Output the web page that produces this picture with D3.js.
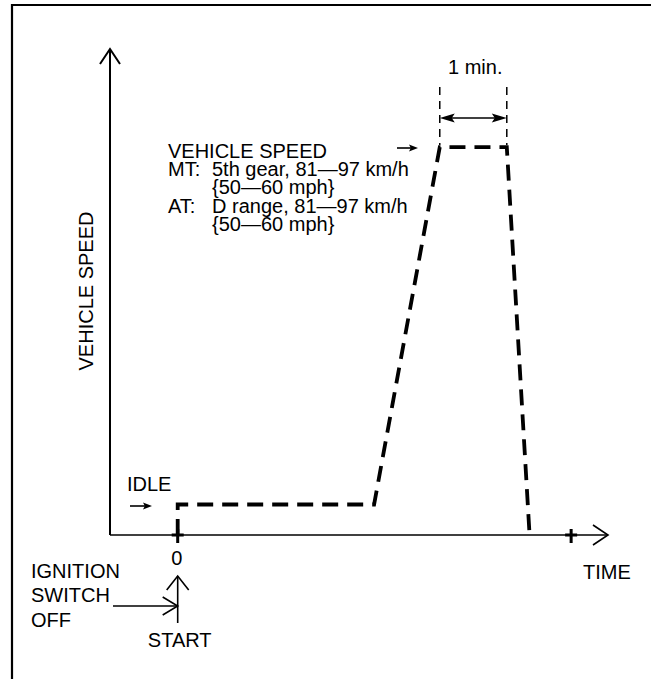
<!DOCTYPE html>
<html>
<head>
<meta charset="utf-8">
<script src="https://cdn.jsdelivr.net/npm/d3@7"></script>
<style>
  html, body { margin: 0; padding: 0; background: #fff; }
  svg { display: block; }
  text { font-family: "Liberation Sans", Arial, Helvetica, sans-serif; font-size: 20px; fill: #000; }
</style>
</head>
<body>
<svg id="chart" width="651" height="679"></svg>
<script>
// Drive-cycle profile: time in minutes after start, speed in km/h
const profileTime  = [0, 0, 2.93, 3.91, 4.91, 5.25];
const profileSpeed = [0, 7, 7, 89, 89, 0];

// Axis extent and the single marked tick beyond the cycle
const timeDomain  = [-1.01, 6.42];
const speedDomain = [0, 111.5];
const endTick = 5.87;
const zeroLabel = "0";

const speedNote = [
  { t: "VEHICLE SPEED", x: 0 },
  { t: "MT:", x: 0 }, { t: "5th gear, 81\u201497 km/h", x: 44 },
  { t: "{50\u201460 mph}", x: 44 },
  { t: "AT:", x: 0 }, { t: "D range, 81\u201497 km/h", x: 44 },
  { t: "{50\u201460 mph}", x: 44 }
];
const noteLine = [0, 1, 1, 2, 3, 3, 4];
const ignitionLines = ["IGNITION", "SWITCH", "OFF"];

const svg = d3.select("#chart");

const x = d3.scaleLinear().domain(timeDomain).range([110, 608]);
const y = d3.scaleLinear().domain(speedDomain).range([535, 49]);

// frame
svg.append("path")
  .attr("d", "M12,679 V5 H651")
  .attr("fill", "none").attr("stroke", "#000").attr("stroke-width", 2.2);

const chevron = (tx, ty, dx, dy, len, half) => {
  // open arrowhead pointing along (dx,dy)
  const px = -dy, py = dx;
  const bx = tx - dx * len, by = ty - dy * len;
  return `M${bx + px * half},${by + py * half} L${tx},${ty} L${bx - px * half},${by - py * half}`;
};
const solidHead = (tx, ty, dx, len, half) =>
  `M${tx},${ty} L${tx - dx * len},${ty - half} L${tx - dx * len * 0.8},${ty} L${tx - dx * len},${ty + half} Z`;

// axes
const x0 = x(timeDomain[0]), yTop = y(speedDomain[1]), yBase = y(0);
svg.append("line").attr("x1", x0).attr("x2", x0).attr("y1", yBase).attr("y2", yTop)
  .attr("stroke", "#000").attr("stroke-width", 2);
svg.append("path").attr("d", chevron(x0, yTop, 0, -1, 15, 10))
  .attr("fill", "none").attr("stroke", "#000").attr("stroke-width", 2);
svg.append("line").attr("x1", x0).attr("x2", x(timeDomain[1])).attr("y1", yBase).attr("y2", yBase)
  .attr("stroke", "#000").attr("stroke-width", 1.6);
svg.append("path").attr("d", chevron(x(timeDomain[1]), yBase, 1, 0, 15, 10))
  .attr("fill", "none").attr("stroke", "#000").attr("stroke-width", 1.6);

// tick marks
[0, endTick].forEach(t => {
  svg.append("path")
    .attr("d", `M${x(t)},${yBase - 6} V${yBase + 8} M${x(t) - 6},${yBase} H${x(t) + 6}`)
    .attr("fill", "none").attr("stroke", "#000").attr("stroke-width", 3);
});

// speed profile
const pts = profileTime.map((t, i) => [t, profileSpeed[i]]);
svg.append("path")
  .datum(pts)
  .attr("d", d3.line().x(d => x(d[0])).y(d => y(d[1])))
  .attr("fill", "none").attr("stroke", "#000").attr("stroke-width", 3.8)
  .attr("stroke-dasharray", "16,9");

// 1 minute hold markers
const holdA = x(profileTime[3]), holdB = x(profileTime[4]), holdY = y(profileSpeed[3]);
[holdA, holdB].forEach(px => {
  svg.append("line").attr("x1", px).attr("x2", px).attr("y1", 87).attr("y2", holdY - 2)
    .attr("stroke", "#000").attr("stroke-width", 1.5).attr("stroke-dasharray", "8,6");
});
svg.append("line").attr("x1", holdA + 6).attr("x2", holdB - 6).attr("y1", 118).attr("y2", 118)
  .attr("stroke", "#000").attr("stroke-width", 1.5);
svg.append("path").attr("d", solidHead(holdB, 118, 1, 15, 4.5)).attr("fill", "#000");
svg.append("path").attr("d", solidHead(holdA, 118, -1, 15, 4.5)).attr("fill", "#000");
svg.append("text").attr("x", (holdA + holdB) / 2 + 2).attr("y", 74)
  .attr("text-anchor", "middle").text("1 min.");

// pointer arrows
const pointer = (x1, x2, py) => {
  svg.append("line").attr("x1", x1).attr("x2", x2 - 6).attr("y1", py).attr("y2", py)
    .attr("stroke", "#000").attr("stroke-width", 1.6);
  svg.append("path").attr("d", solidHead(x2, py, 1, 9, 3.5)).attr("fill", "#000");
};
pointer(397, 418, 148);
pointer(130, 152, 506);

// speed note block, one multi-line text
svg.append("text")
  .selectAll("tspan").data(speedNote).join("tspan")
  .attr("x", d => 168 + d.x)
  .attr("y", (d, i) => 157.5 + noteLine[i] * 18.4)
  .text(d => d.t);

svg.append("text").attr("x", 127).attr("y", 491).text("IDLE");

// axis titles
svg.append("text")
  .attr("transform", "translate(93,291) rotate(-90)")
  .attr("text-anchor", "middle").text("VEHICLE SPEED");
svg.append("text").attr("x", 583).attr("y", 579).text("TIME");
svg.append("text").attr("x", x(0) - 1).attr("y", 565).attr("text-anchor", "middle").text(zeroLabel);

// ignition / start callout
svg.append("text")
  .selectAll("tspan").data(ignitionLines).join("tspan")
  .attr("x", 31).attr("y", (d, i) => 578 + i * 24.3).text(d => d);

const sx = x(0);
svg.append("line").attr("x1", sx).attr("x2", sx).attr("y1", 576).attr("y2", 623)
  .attr("stroke", "#000").attr("stroke-width", 1.6);
svg.append("path").attr("d", chevron(sx, 576, 0, -1, 14, 11))
  .attr("fill", "none").attr("stroke", "#000").attr("stroke-width", 1.6);
svg.append("line").attr("x1", 113).attr("x2", sx).attr("y1", 606).attr("y2", 606)
  .attr("stroke", "#000").attr("stroke-width", 1.6);
svg.append("path").attr("d", chevron(sx, 606, 1, 0, 15, 9))
  .attr("fill", "none").attr("stroke", "#000").attr("stroke-width", 1.6);
svg.append("text").attr("x", sx + 2).attr("y", 647).attr("text-anchor", "middle").text("START");
</script>
</body>
</html>
